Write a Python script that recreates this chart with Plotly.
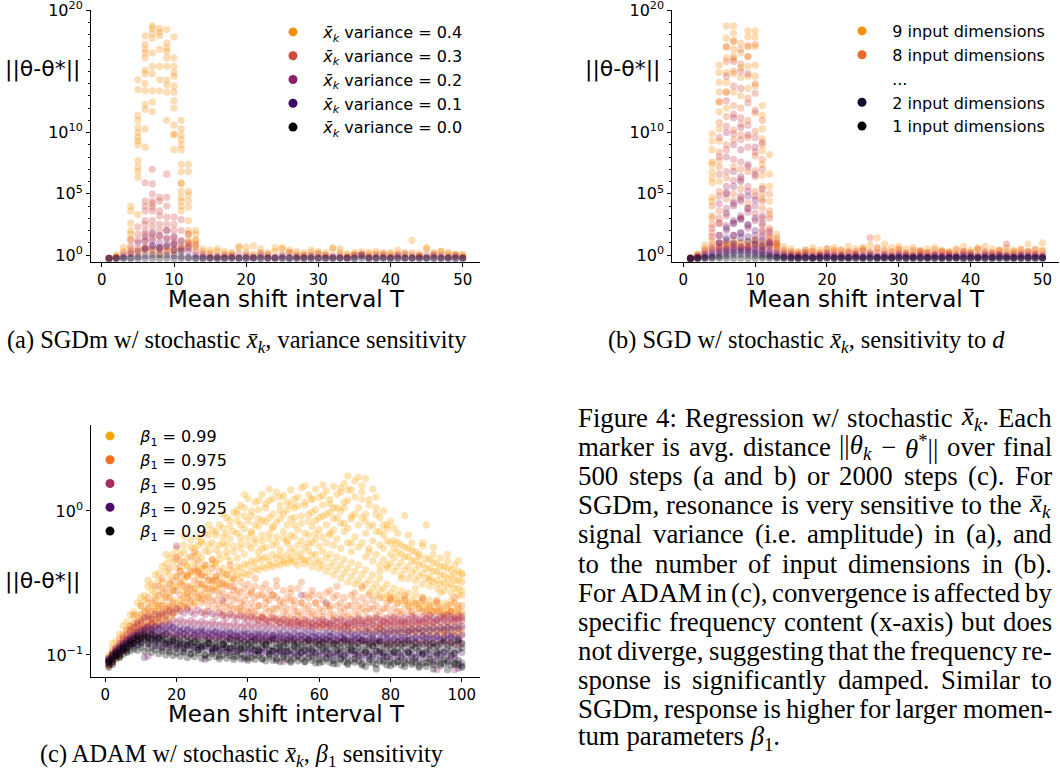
import re
import plotly.graph_objects as go

W, H = 1060, 769

# ---------------- Panel (a): SGDm, variance sensitivity ----------------
T_AB = list(range(1, 51))
A_LABELS = ["0.4", "0.3", "0.2", "0.1", "0.0"]
A_COLORS = ["#f98e09", "#d44842", "#8a226a", "#3b0964", "#000004"]

# log10(||θ-θ*||) read per T = 1..50
A04_BASE1 = [-0.25, 0.0, 0.3, 0.5, 0.4, 0.6, 0.5, 0.4, 0.6, 0.5, 0.7, 1.0, 1.2, 0.5, 0.2, 0.3, 0.1, 0.2, 0.6, 0.2,
             0.1, 0.2, 0.0, 0.3, 0.5, 0.2, 0.1, 0.0, 0.2, 0.1, 0.0, 0.5, 0.2, 0.0, 0.1, 0.0, 0.2, 0.1, 0.0, 0.2,
             0.1, 0.0, 1.2, 0.1, 0.6, 0.0, 0.3, 0.1, 0.0, 0.0]
A04_BASE2 = [-0.28, -0.1, 0.6, 0.2, 0.1, 0.3, 0.2, 0.0, 0.3, 0.2, 0.4, 0.6, 0.9, 0.3, 0.4, 0.5, 0.3, 0.1, 0.7, 0.65,
             0.75, 0.5, 0.2, 0.6, 0.6, 0.4, 0.3, 0.2, 0.4, 0.3, 0.2, 0.6, 0.5, 0.1, 0.2, 0.3, 0.1, 0.3, 0.2, 0.1,
             0.4, 0.2, 0.2, 0.0, 0.5, 0.2, 0.3, 0.2, 0.1, 0.05]
A04_PEAK = [(4, 4.0), (4, 3.6), (4, 2.6), (4, 2.0), (4, 1.7), (4, 1.3),
            (5, 14.3), (5, 13.5), (5, 11.4), (5, 11.0), (5, 10.4), (5, 10.0), (5, 9.6), (5, 9.3), (5, 9.0),
            (5, 7.7), (5, 7.2), (5, 6.8), (5, 6.3), (5, 3.3),
            (6, 17.9), (6, 17.2), (6, 16.8), (6, 16.5), (6, 16.1), (6, 15.1), (6, 14.8), (6, 14.0), (6, 13.4),
            (6, 12.3), (6, 11.9), (6, 10.3), (6, 8.8),
            (7, 18.7), (7, 18.5), (7, 18.1), (7, 17.7), (7, 16.5), (7, 15.4), (7, 14.8), (7, 13.4), (7, 12.5), (7, 11.7),
            (8, 18.5), (8, 18.2), (8, 17.9), (8, 16.8), (8, 15.4), (8, 14.3), (8, 13.4),
            (9, 18.4), (9, 17.3), (9, 16.9), (9, 16.6), (9, 16.1), (9, 15.4), (9, 14.3), (9, 13.9), (9, 13.3), (9, 11.0),
            (10, 17.8), (10, 16.1), (10, 15.4), (10, 14.9), (10, 14.6), (10, 13.8), (10, 13.3), (10, 12.6), (10, 12.0),
            (10, 10.6), (10, 9.9), (10, 9.8), (10, 8.6),
            (11, 11.0), (11, 10.3), (11, 9.8), (11, 9.4), (11, 9.0), (11, 8.6), (11, 7.4), (11, 6.8), (11, 5.9),
            (11, 5.8), (11, 5.2), (11, 4.7), (11, 4.4), (11, 4.0), (11, 3.6),
            (12, 7.4), (12, 6.8), (12, 5.2), (12, 4.9), (12, 4.4), (12, 3.9), (12, 2.8), (12, 2.0), (12, 1.7), (12, 1.2),
            (13, 2.0), (13, 1.7), (13, 1.2), (13, 0.6)]
A03_BASE = [-0.28, -0.2, 0.1, 0.3, 0.5, 0.6, 0.4, 0.5, 0.3, 0.4, 0.6, 0.8, 0.3, 0.1, 0.0, -0.1, 0.0, -0.1, 0.1, 0.0,
            -0.1, 0.1, 0.0, -0.2, 0.0, 0.2, -0.1, 0.0, -0.1, 0.1, 0.0, -0.1, 0.0, -0.2, 0.0, 0.1, -0.1, 0.0, 0.1, -0.1,
            0.0, 0.1, 0.0, -0.1, 0.0, 0.1, 0.0, -0.1, 0.0, -0.2]
A03_PEAK = [(4, 1.2), (4, 0.7), (5, 2.3), (5, 1.7), (5, 1.2),
            (6, 5.9), (6, 4.4), (6, 4.0), (6, 3.6), (6, 2.8), (6, 2.5), (6, 2.0), (6, 1.7), (6, 1.2),
            (7, 7.0), (7, 5.8), (7, 5.0), (7, 4.4), (7, 4.2), (7, 3.9), (7, 3.6), (7, 2.8), (7, 2.3), (7, 1.7), (7, 1.4),
            (8, 4.7), (8, 4.4), (8, 3.6), (8, 3.2), (8, 2.5), (8, 2.0), (8, 1.5),
            (9, 6.6), (9, 4.7), (9, 4.0), (9, 3.1), (9, 2.5), (9, 2.0), (9, 1.4),
            (10, 3.1), (10, 2.5), (10, 2.0), (10, 1.4), (10, 1.0),
            (11, 2.9), (11, 2.0), (11, 1.2), (12, 1.7), (12, 1.0), (13, 0.8)]
A02_BASE = [-0.28, -0.25, -0.1, 0.1, 0.3, 0.5, 0.8, 0.6, 0.7, 0.9, 0.5, 0.3, 0.0, -0.1, -0.2, -0.15, -0.2, -0.1, -0.2, -0.15,
            -0.2, -0.1, -0.2, -0.2, -0.1, -0.2, -0.15, -0.2, -0.1, -0.2, -0.2, -0.15, -0.2, -0.2, -0.1, 0.0, -0.2, -0.2,
            -0.15, -0.2, -0.1, -0.2, -0.2, -0.15, -0.2, -0.1, -0.2, -0.2, -0.15, -0.2]
A02_PEAK = [(5, 1.0), (6, 1.5), (6, 1.1), (7, 1.8), (7, 1.2), (8, 1.6), (8, 1.0), (9, 2.0), (9, 1.3),
            (10, 1.5), (10, 0.9), (11, 1.1), (12, 0.6)]
A01_BASE = [-0.27, -0.26, -0.25, -0.22, -0.15, -0.05, 0.0, 0.05, 0.0, -0.05, -0.1, -0.18, -0.24, -0.26, -0.25, -0.27,
            -0.26, -0.25, -0.27, -0.26, -0.25, -0.27, -0.26, -0.27, -0.25, -0.26, -0.27, -0.26, -0.25, -0.27, -0.26,
            -0.27, -0.25, -0.26, -0.27, -0.1, -0.27, -0.26, -0.25, -0.27, -0.26, -0.27, -0.25, -0.26, -0.27, -0.26,
            -0.25, -0.27, -0.26, -0.27]
A01_PEAK = [(6, 0.5), (7, 0.7), (8, 0.6), (9, 0.8), (10, 0.4), (11, 0.3)]
A00_BASE = [-0.28, -0.28, -0.27, -0.28, -0.28, -0.27, -0.28, -0.28, -0.27, -0.28, -0.28, -0.27, -0.28, -0.28, -0.27,
            -0.28, -0.28, -0.27, -0.28, -0.28, -0.27, -0.28, -0.28, -0.27, -0.28, -0.28, -0.27, -0.28, -0.28, -0.27,
            -0.28, -0.28, -0.27, -0.28, -0.28, -0.27, -0.28, -0.28, -0.27, -0.28, -0.28, -0.27, -0.28, -0.28, -0.27,
            -0.28, -0.28, -0.27, -0.28, -0.28]

# ---------------- Panel (b): SGD, sensitivity to d ----------------
B_COLORS = ["#f98e09", "#ec6626", "#d24644", "#ad305c", "#85216b", "#61136e", "#3b0964", "#140b34", "#000004"]

B9_BASE1 = [-0.28, 0.1, 0.8, 1.2, 1.0, 0.9, 1.2, 1.0, 1.1, 1.3, 1.0, 1.4, 0.9, 0.7, 0.5, 0.3, 0.4, 0.6, 0.4, 0.5,
            0.6, 0.4, 0.7, 0.5, 0.6, 0.8, 1.4, 0.9, 0.6, 0.7, 0.5, 0.6, 0.3, 0.5, 0.6, 0.4, 0.3, 0.5, 0.7, 0.4,
            0.6, 0.7, 0.5, 0.3, 0.6, 0.4, 0.5, 0.9, 0.4, 1.0]
B9_BASE2 = [-0.2, 0.0, 0.4, 0.6, 0.5, 0.7, 0.8, 0.6, 0.7, 0.9, 0.6, 0.8, 0.5, 0.3, 0.2, 0.1, 0.2, 0.3, 0.1, 0.2,
            0.4, 0.2, 0.3, 0.1, 0.4, 0.2, 0.5, 0.3, 0.2, 0.4, 0.1, 0.2, 0.4, 0.2, 0.1, 0.3, 0.2, 0.1, 0.3, 0.2,
            0.4, 0.1, 0.2, 0.4, 0.1, 0.3, 0.2, 0.3, 0.1, 0.4]
B9_PEAK = [(4, 9.9), (4, 9.3), (4, 8.6), (4, 7.6), (4, 7.4), (4, 6.8), (4, 6.3), (4, 5.9), (4, 4.7), (4, 4.4), (4, 3.0),
           (5, 15.5), (5, 14.9), (5, 14.1), (5, 13.3), (5, 12.5), (5, 11.7), (5, 10.3), (5, 9.3), (5, 7.7), (5, 6.0),
           (6, 18.7), (6, 17.7), (6, 17.0), (6, 16.1), (6, 14.9), (6, 14.1), (6, 13.3), (6, 12.0),
           (7, 18.7), (7, 18.1), (7, 17.4), (7, 16.8), (7, 16.0), (7, 14.8), (7, 13.3),
           (8, 17.3), (8, 16.5), (8, 15.3), (8, 14.5), (8, 13.0),
           (9, 18.3), (9, 17.8), (9, 17.0), (9, 16.2), (9, 15.4), (9, 14.6), (9, 13.6),
           (10, 18.3), (10, 17.8), (10, 17.0), (10, 15.5), (10, 14.6), (10, 13.8),
           (11, 12.2), (11, 11.4), (11, 10.3), (11, 9.5), (11, 8.5), (11, 7.4), (11, 6.5), (11, 5.6), (11, 4.6),
           (12, 8.2), (12, 6.6), (12, 5.6), (12, 4.4), (12, 3.3),
           (13, 1.7), (13, 1.2), (13, 0.8)]
B8_BASE = [-0.28, 0.0, 0.5, 0.9, 0.8, 1.0, 0.9, 1.0, 0.8, 1.1, 0.9, 1.0, 0.7, 0.4, 0.3, 0.2, 0.4, 0.3, 0.2, 0.5,
           0.3, 0.4, 0.2, 0.3, 0.5, 0.3, 0.6, 0.4, 0.3, 0.5, 0.2, 0.4, 0.3, 0.2, 0.4, 0.3, 0.2, 0.4, 0.3, 0.2,
           0.5, 0.3, 0.2, 0.4, 0.3, 0.2, 0.4, 0.3, 0.5, 0.3]
B8_PEAK = [(4, 4.0), (4, 3.2), (4, 2.5), (4, 1.8),
           (5, 12.5), (5, 10.8), (5, 8.4), (5, 7.2), (5, 5.2), (5, 3.6), (5, 2.6),
           (6, 17.0), (6, 15.8), (6, 13.3), (6, 11.3), (6, 9.0), (6, 6.3), (6, 4.6),
           (7, 17.5), (7, 16.2), (7, 15.0), (7, 12.2), (7, 10.2), (7, 9.4), (7, 7.2), (7, 5.0),
           (8, 16.8), (8, 15.6), (8, 12.0), (8, 10.7), (8, 9.8), (8, 7.0), (8, 5.4),
           (9, 17.1), (9, 16.2), (9, 12.8), (9, 11.0), (9, 9.6), (9, 6.8), (9, 4.2),
           (10, 17.2), (10, 14.0), (10, 11.6), (10, 10.1), (10, 8.1), (10, 6.9), (10, 5.2),
           (11, 11.0), (11, 9.0), (11, 7.8), (11, 5.0), (11, 3.8), (11, 2.4),
           (12, 5.0), (12, 3.6), (12, 2.2), (12, 1.5), (13, 1.4), (13, 0.9)]
B7_BASE = [-0.28, -0.1, 0.3, 0.6, 0.6, 0.7, 0.8, 0.7, 0.6, 0.8, 0.7, 0.6, 0.4, 0.2, 0.1, 0.0, 0.2, 0.1, 0.0, 0.2,
           0.1, 0.0, 0.2, 0.1, 0.3, 1.4, 0.2, 0.1, 0.0, 0.2, 0.1, 0.0, 0.2, 0.1, 0.0, 0.2, 0.1, 0.0, 0.2, 0.1,
           0.0, 0.2, 0.1, 0.0, 0.9, 0.1, 0.0, 0.2, 0.1, 0.0]
B7_PEAK = [(4, 2.2), (4, 1.5),
           (5, 9.6), (5, 8.0), (5, 6.6), (5, 4.8), (5, 3.0),
           (6, 14.6), (6, 12.6), (6, 10.5), (6, 8.6), (6, 6.8), (6, 5.1), (6, 3.2),
           (7, 15.8), (7, 13.8), (7, 11.5), (7, 9.9), (7, 7.8), (7, 6.1), (7, 4.4),
           (8, 15.0), (8, 13.6), (8, 11.2), (8, 9.4), (8, 7.6), (8, 6.2), (8, 4.6), (8, 3.0),
           (9, 14.8), (9, 12.4), (9, 10.6), (9, 8.8), (9, 7.2), (9, 5.6), (9, 3.8),
           (10, 13.2), (10, 11.8), (10, 9.6), (10, 8.4), (10, 6.4), (10, 4.8), (10, 3.4),
           (11, 9.2), (11, 7.0), (11, 4.4), (11, 3.0), (11, 1.8),
           (12, 3.0), (12, 2.0), (12, 1.2), (13, 1.0)]
B6_BASE = [-0.28, -0.15, 0.1, 0.4, 0.5, 0.55, 0.6, 0.65, 0.6, 0.55, 0.45, 0.35, 0.2, 0.05, 0.0, -0.05, 0.05, -0.1, 0.0,
           0.05, -0.05, 0.0, -0.08, 0.05, -0.02, 0.1, -0.06, 0.0, -0.1, 0.05, -0.03, -0.06, 0.02, -0.1, 0.05, -0.04,
           0.0, -0.08, 0.05, -0.02, -0.1, 0.02, -0.05, 0.08, -0.02, -0.08, 0.04, -0.04, 0.0, -0.1]
B6_PEAK = [(5, 4.2), (5, 2.6), (5, 1.6),
           (6, 10.0), (6, 8.0), (6, 5.6), (6, 3.8), (6, 2.4),
           (7, 11.2), (7, 9.0), (7, 6.8), (7, 4.0), (7, 2.6),
           (8, 10.4), (8, 8.6), (8, 6.4), (8, 4.8), (8, 3.0),
           (9, 9.8), (9, 7.4), (9, 5.2), (9, 3.5), (9, 2.2),
           (10, 8.8), (10, 6.6), (10, 4.0), (10, 2.8),
           (11, 5.4), (11, 3.2), (11, 2.0), (12, 1.8), (12, 1.0)]
B5_BASE = [-0.28, -0.2, 0.0, 0.2, 0.35, 0.45, 0.5, 0.55, 0.5, 0.45, 0.35, 0.25, 0.1, -0.05, -0.1, -0.12, -0.08, -0.15,
           -0.1, -0.05, -0.12, -0.1, -0.15, -0.06, -0.11, -0.03, -0.14, -0.09, -0.15, -0.06, -0.1, -0.13, -0.08, -0.15,
           -0.05, -0.12, -0.09, -0.14, -0.06, -0.1, -0.15, -0.08, -0.12, -0.05, -0.1, -0.14, -0.07, -0.12, -0.09, -0.15]
B5_PEAK = [(5, 1.6), (5, 1.0), (6, 5.0), (6, 3.4), (6, 2.0), (7, 5.6), (7, 4.2), (7, 2.8), (7, 1.6),
           (8, 6.0), (8, 4.4), (8, 3.2), (8, 1.8), (9, 4.8), (9, 3.8), (9, 2.4), (10, 4.5), (10, 3.0), (10, 1.6),
           (11, 2.6), (11, 1.5), (12, 1.0)]
B4_BASE = [-0.28, -0.22, -0.1, 0.05, 0.2, 0.3, 0.35, 0.4, 0.35, 0.3, 0.2, 0.1, -0.05, -0.12, -0.15, -0.18, -0.14, -0.2,
           -0.16, -0.12, -0.18, -0.15, -0.2, -0.13, -0.17, -0.1, -0.19, -0.15, -0.2, -0.12, -0.16, -0.18, -0.14, -0.2,
           -0.13, -0.17, -0.15, -0.19, -0.12, -0.16, -0.2, -0.14, -0.18, -0.13, -0.15, -0.19, -0.12, -0.17, -0.15, -0.2]
B4_PEAK = [(5, 1.0), (6, 2.2), (6, 1.4), (7, 2.6), (7, 1.6), (8, 2.9), (8, 1.8), (9, 2.5), (9, 1.5),
           (10, 2.0), (10, 1.2), (11, 1.2), (12, 0.8)]
B3_BASE = [-0.28, -0.25, -0.2, -0.1, 0.0, 0.15, 0.2, 0.25, 0.2, 0.15, 0.05, -0.05, -0.15, -0.2, -0.22, -0.24, -0.22,
           -0.25, -0.23, -0.2, -0.24, -0.22, -0.25, -0.2, -0.23, -0.21, -0.24, -0.22, -0.25, -0.2, -0.23, -0.22, -0.24,
           -0.21, -0.25, -0.22, -0.23, -0.2, -0.24, -0.22, -0.25, -0.21, -0.23, -0.2, -0.24, -0.22, -0.25, -0.21,
           -0.23, -0.22]
B3_PEAK = [(6, 1.2), (7, 1.0), (8, 1.4), (9, 1.1), (10, 0.9), (11, 0.7)]
B2_BASE = [-0.28, -0.27, -0.25, -0.2, -0.15, -0.05, 0.0, 0.05, 0.0, -0.05, -0.1, -0.15, -0.2, -0.25, -0.26, -0.27,
           -0.26, -0.27, -0.26, -0.25, -0.27, -0.26, -0.27, -0.25, -0.26, -0.27, -0.26, -0.25, -0.27, -0.26, -0.27,
           -0.26, -0.25, -0.27, -0.26, -0.27, -0.25, -0.26, -0.27, -0.26, -0.25, -0.27, -0.26, -0.27, -0.25, -0.26,
           -0.27, -0.26, -0.25, -0.27]
B1_BASE = [-0.28, -0.28, -0.27, -0.28, -0.27, -0.28, -0.28, -0.27, -0.28, -0.28, -0.27, -0.28, -0.28, -0.27, -0.28,
           -0.28, -0.27, -0.28, -0.28, -0.27, -0.28, -0.28, -0.27, -0.28, -0.28, -0.27, -0.28, -0.28, -0.27, -0.28,
           -0.28, -0.27, -0.28, -0.28, -0.27, -0.28, -0.28, -0.27, -0.28, -0.28, -0.27, -0.28, -0.28, -0.27, -0.28,
           -0.28, -0.27, -0.28, -0.28, -0.27]

# ---------------- Panel (c): ADAM, beta1 sensitivity (values per T = 1..100) ----------------
T_C = list(range(1, 101))
C_LABELS = ["0.99", "0.975", "0.95", "0.925", "0.9"]
C_COLORS = ["#fca50a", "#f1711f", "#a52c60", "#4d0c6b", "#000004"]

C099_RA = [0.1, 0.12, 0.11, 0.14, 0.16, 0.15, 0.19, 0.18, 0.23, 0.25, 0.24, 0.3, 0.28, 0.36, 0.33, 0.41, 0.38, 0.47, 0.44, 0.55,
           0.5, 0.58, 0.47, 0.63, 0.55, 0.66, 0.6, 0.7, 0.58, 0.74, 0.68, 0.8, 0.66, 0.9, 0.78, 0.98, 0.85, 1.1, 0.92, 1.22,
           1.0, 1.15, 0.88, 1.3, 1.05, 1.18, 0.95, 1.35, 1.1, 1.28, 1.02, 1.4, 1.2, 1.08, 1.45, 1.15, 1.3, 0.98, 1.42, 1.25,
           1.1, 1.38, 1.2, 1.48, 1.05, 1.35, 1.55, 1.18, 1.4, 1.62, 1.72, 1.35, 1.68, 1.2, 1.42, 1.05, 0.9, 1.0, 0.75, 0.85,
           0.62, 0.7, 0.58, 0.93, 0.55, 0.6, 0.52, 0.48, 0.57, 0.8, 0.46, 0.5, 0.43, 0.47, 0.41, 0.45, 0.39, 0.42, 0.38, 0.37]
C099_RB = [0.095, 0.1, 0.125, 0.12, 0.14, 0.17, 0.16, 0.2, 0.19, 0.22, 0.26, 0.23, 0.31, 0.27, 0.37, 0.32, 0.43, 0.36, 0.5, 0.4,
           0.45, 0.52, 0.42, 0.56, 0.49, 0.5, 0.62, 0.53, 0.68, 0.6, 0.72, 0.58, 0.76, 0.7, 0.86, 0.72, 0.95, 0.8, 1.05, 0.85,
           0.92, 0.8, 1.02, 0.86, 1.12, 0.9, 1.22, 0.84, 1.0, 0.95, 1.15, 0.88, 1.05, 1.25, 0.92, 1.1, 0.85, 1.2, 1.02, 0.9,
           1.28, 0.95, 1.12, 0.88, 1.3, 1.0, 1.15, 1.4, 0.92, 1.25, 1.05, 1.2, 0.85, 1.1, 0.8, 0.95, 0.72, 0.68, 0.8, 0.6,
           0.55, 0.6, 0.5, 0.56, 0.48, 0.53, 0.45, 0.5, 0.43, 0.47, 0.4, 0.44, 0.38, 0.41, 0.36, 0.4, 0.35, 0.37, 0.33, 0.36]
C099_RC = [0.09, 0.105, 0.1, 0.115, 0.13, 0.125, 0.15, 0.145, 0.17, 0.18, 0.2, 0.21, 0.19, 0.25, 0.22, 0.29, 0.26, 0.32, 0.28, 0.35,
           0.38, 0.33, 0.41, 0.37, 0.44, 0.4, 0.47, 0.42, 0.52, 0.46, 0.54, 0.5, 0.6, 0.52, 0.64, 0.57, 0.7, 0.6, 0.75, 0.65,
           0.72, 0.64, 0.78, 0.68, 0.84, 0.7, 0.76, 0.66, 0.88, 0.72, 0.8, 0.68, 0.9, 0.74, 0.82, 0.7, 0.95, 0.78, 0.86, 0.74,
           0.92, 0.8, 0.98, 0.74, 0.9, 0.82, 1.05, 0.76, 0.88, 0.95, 0.8, 0.9, 0.7, 0.78, 0.62, 0.72, 0.58, 0.55, 0.62, 0.5,
           0.47, 0.52, 0.44, 0.48, 0.41, 0.45, 0.39, 0.42, 0.37, 0.4, 0.35, 0.38, 0.33, 0.36, 0.32, 0.34, 0.31, 0.33, 0.29, 0.32]
C099_RD = [0.088, 0.095, 0.108, 0.1, 0.12, 0.135, 0.13, 0.155, 0.15, 0.165, 0.17, 0.19, 0.18, 0.21, 0.2, 0.24, 0.22, 0.27, 0.24, 0.3,
           0.31, 0.28, 0.35, 0.3, 0.38, 0.34, 0.36, 0.4, 0.37, 0.43, 0.42, 0.46, 0.4, 0.48, 0.45, 0.52, 0.47, 0.55, 0.5, 0.58,
           0.55, 0.6, 0.52, 0.62, 0.56, 0.64, 0.58, 0.6, 0.54, 0.65, 0.6, 0.55, 0.66, 0.58, 0.62, 0.56, 0.68, 0.6, 0.64, 0.57,
           0.66, 0.6, 0.7, 0.58, 0.64, 0.55, 0.72, 0.6, 0.52, 0.66, 0.56, 0.6, 0.48, 0.52, 0.45, 0.5, 0.42, 0.46, 0.4, 0.43,
           0.38, 0.41, 0.36, 0.39, 0.34, 0.37, 0.33, 0.35, 0.31, 0.34, 0.3, 0.32, 0.29, 0.31, 0.28, 0.3, 0.27, 0.29, 0.26, 0.28]
C099_RE = [0.086, 0.09, 0.098, 0.105, 0.11, 0.118, 0.125, 0.132, 0.138, 0.145, 0.15, 0.16, 0.165, 0.175, 0.18, 0.195, 0.2, 0.21,
           0.215, 0.23, 0.24, 0.25, 0.27, 0.26, 0.29, 0.28, 0.31, 0.3, 0.33, 0.32, 0.35, 0.34, 0.37, 0.36, 0.39, 0.38, 0.41,
           0.4, 0.43, 0.42, 0.45, 0.44, 0.47, 0.46, 0.48, 0.45, 0.5, 0.47, 0.49, 0.46, 0.5, 0.47, 0.52, 0.48, 0.51, 0.46, 0.53,
           0.49, 0.5, 0.45, 0.52, 0.47, 0.5, 0.44, 0.48, 0.42, 0.46, 0.4, 0.44, 0.38, 0.42, 0.36, 0.39, 0.33, 0.36, 0.31, 0.34,
           0.29, 0.31, 0.27, 0.29, 0.26, 0.28, 0.25, 0.27, 0.24, 0.26, 0.23, 0.25, 0.225, 0.24, 0.22, 0.235, 0.215, 0.23, 0.21,
           0.225, 0.205, 0.22, 0.2]
C099_RF = [0.084, 0.092, 0.095, 0.1, 0.108, 0.112, 0.12, 0.126, 0.13, 0.138, 0.142, 0.15, 0.148, 0.16, 0.158, 0.17, 0.175, 0.18,
           0.19, 0.2, 0.21, 0.22, 0.215, 0.235, 0.23, 0.25, 0.245, 0.27, 0.26, 0.29, 0.3, 0.29, 0.32, 0.31, 0.34, 0.33, 0.36,
           0.35, 0.37, 0.36, 0.38, 0.4, 0.39, 0.41, 0.4, 0.42, 0.41, 0.43, 0.42, 0.44, 0.43, 0.45, 0.44, 0.42, 0.46, 0.43,
           0.45, 0.41, 0.44, 0.4, 0.42, 0.38, 0.41, 0.36, 0.39, 0.34, 0.37, 0.32, 0.35, 0.31, 0.33, 0.29, 0.31, 0.27, 0.29,
           0.26, 0.28, 0.25, 0.26, 0.24, 0.25, 0.23, 0.24, 0.22, 0.23, 0.215, 0.225, 0.21, 0.22, 0.205, 0.21, 0.2, 0.205,
           0.195, 0.2, 0.19, 0.198, 0.185, 0.195, 0.18]
C099_SCATTER = [(12, 0.33), (14, 0.22), (17, 0.5), (19, 0.3), (22, 0.67), (23, 0.36), (26, 0.58), (27, 0.4), (29, 0.8),
                (31, 0.44), (33, 0.95), (34, 0.58), (37, 1.02), (38, 0.66), (39, 1.3), (41, 0.7), (43, 1.18), (44, 0.55),
                (46, 1.42), (47, 0.78), (49, 1.25), (51, 0.62), (52, 1.1), (53, 0.8), (56, 1.5), (57, 0.6), (58, 1.22),
                (59, 0.7), (61, 1.52), (63, 0.68), (64, 1.05), (66, 1.45), (67, 0.82), (68, 1.75), (69, 0.6), (72, 1.5),
                (73, 0.95), (74, 0.55), (76, 1.25), (77, 0.38), (78, 0.8), (79, 0.42), (81, 0.76), (83, 0.34), (85, 0.68),
                (87, 0.29), (89, 0.6), (91, 0.33), (92, 0.56), (94, 0.27), (96, 0.5), (97, 0.24), (99, 0.45), (100, 0.26)]
C0975_RA = [0.095, 0.11, 0.1, 0.13, 0.125, 0.15, 0.16, 0.19, 0.17, 0.22, 0.2, 0.25, 0.23, 0.3, 0.26, 0.34, 0.29, 0.4, 0.33, 0.46,
            0.38, 0.44, 0.35, 0.48, 0.4, 0.45, 0.36, 0.42, 0.33, 0.4, 0.35, 0.38, 0.31, 0.36, 0.3, 0.34, 0.28, 0.32, 0.29, 0.31,
            0.27, 0.3, 0.26, 0.29, 0.25, 0.28, 0.26, 0.3, 0.24, 0.28, 0.25, 0.27, 0.24, 0.29, 0.23, 0.26, 0.25, 0.28, 0.23, 0.26,
            0.24, 0.27, 0.22, 0.25, 0.26, 0.23, 0.25, 0.22, 0.26, 0.24, 0.22, 0.25, 0.23, 0.21, 0.24, 0.22, 0.25, 0.21, 0.23, 0.24,
            0.21, 0.23, 0.2, 0.24, 0.22, 0.2, 0.23, 0.21, 0.24, 0.2, 0.22, 0.2, 0.23, 0.21, 0.19, 0.22, 0.2, 0.23, 0.21, 0.22]
C0975_RB = [0.09, 0.1, 0.112, 0.118, 0.135, 0.13, 0.15, 0.165, 0.16, 0.19, 0.18, 0.21, 0.2, 0.24, 0.22, 0.27, 0.25, 0.31, 0.28, 0.35,
            0.32, 0.36, 0.3, 0.38, 0.33, 0.37, 0.31, 0.35, 0.29, 0.33, 0.28, 0.31, 0.27, 0.3, 0.26, 0.28, 0.25, 0.27, 0.24, 0.26,
            0.23, 0.25, 0.22, 0.26, 0.23, 0.24, 0.21, 0.25, 0.22, 0.23, 0.21, 0.24, 0.22, 0.2, 0.23, 0.21, 0.22, 0.2, 0.23, 0.21,
            0.2, 0.22, 0.21, 0.19, 0.22, 0.2, 0.21, 0.19, 0.22, 0.2, 0.19, 0.21, 0.2, 0.18, 0.21, 0.19, 0.2, 0.18, 0.21, 0.19,
            0.18, 0.2, 0.19, 0.17, 0.2, 0.18, 0.19, 0.17, 0.2, 0.18, 0.19, 0.17, 0.2, 0.18, 0.19, 0.17, 0.2, 0.18, 0.17, 0.19]
C0975_RC = [0.087, 0.095, 0.105, 0.11, 0.12, 0.125, 0.14, 0.145, 0.155, 0.165, 0.16, 0.18, 0.175, 0.2, 0.19, 0.22, 0.21, 0.25,
            0.23, 0.28, 0.26, 0.3, 0.25, 0.29, 0.27, 0.31, 0.26, 0.29, 0.25, 0.28, 0.24, 0.26, 0.23, 0.25, 0.22, 0.24, 0.21,
            0.23, 0.22, 0.2, 0.21, 0.2, 0.22, 0.19, 0.21, 0.2, 0.19, 0.21, 0.18, 0.2, 0.19, 0.18, 0.2, 0.185, 0.19, 0.175,
            0.195, 0.18, 0.19, 0.175, 0.185, 0.17, 0.19, 0.175, 0.18, 0.17, 0.185, 0.165, 0.18, 0.17, 0.175, 0.165, 0.18, 0.17,
            0.165, 0.178, 0.16, 0.172, 0.165, 0.17, 0.16, 0.17, 0.158, 0.168, 0.155, 0.165, 0.16, 0.152, 0.166, 0.158, 0.162,
            0.155, 0.165, 0.15, 0.16, 0.155, 0.162, 0.148, 0.158, 0.152]
C0975_RD = [0.085, 0.09, 0.098, 0.105, 0.11, 0.12, 0.128, 0.135, 0.142, 0.15, 0.155, 0.16, 0.165, 0.17, 0.18, 0.19, 0.185, 0.2,
            0.195, 0.21, 0.22, 0.23, 0.215, 0.24, 0.22, 0.25, 0.23, 0.24, 0.22, 0.235, 0.21, 0.22, 0.2, 0.215, 0.195, 0.21,
            0.19, 0.2, 0.185, 0.195, 0.18, 0.19, 0.175, 0.185, 0.17, 0.18, 0.172, 0.178, 0.168, 0.175, 0.165, 0.172, 0.16,
            0.17, 0.162, 0.168, 0.158, 0.165, 0.16, 0.155, 0.162, 0.155, 0.16, 0.152, 0.158, 0.15, 0.156, 0.148, 0.155, 0.15,
            0.153, 0.147, 0.152, 0.146, 0.15, 0.145, 0.152, 0.144, 0.15, 0.146, 0.148, 0.143, 0.15, 0.142, 0.147, 0.14, 0.146,
            0.142, 0.148, 0.14, 0.145, 0.14, 0.147, 0.138, 0.144, 0.14, 0.146, 0.137, 0.143, 0.14]
C0975_OUT = [(20, 0.48), (25, 0.52), (30, 0.46), (35, 0.42), (42, 0.34), (48, 0.33), (55, 0.32), (65, 0.3), (72, 0.3),
             (45, 0.31), (15, 0.3), (18, 0.22), (21, 0.41), (23, 0.27), (26, 0.38), (28, 0.2), (31, 0.33), (33, 0.19),
             (36, 0.3), (38, 0.21), (41, 0.28), (44, 0.18), (47, 0.26), (52, 0.29), (54, 0.17), (58, 0.26), (61, 0.165),
             (63, 0.28), (67, 0.16), (70, 0.27), (74, 0.26), (77, 0.155), (80, 0.25), (84, 0.26), (86, 0.15), (89, 0.25),
             (93, 0.24), (95, 0.145), (98, 0.25)]
C095_R1 = [0.092, 0.099, 0.106, 0.112, 0.119, 0.126, 0.133, 0.139, 0.145, 0.15, 0.155, 0.16, 0.165, 0.158, 0.168, 0.162,
           0.171, 0.165, 0.174, 0.168, 0.175, 0.17, 0.166, 0.173, 0.168, 0.164, 0.171, 0.166, 0.162, 0.169, 0.164, 0.16,
           0.167, 0.162, 0.158, 0.165, 0.16, 0.156, 0.163, 0.158, 0.162, 0.157, 0.161, 0.156, 0.163, 0.158, 0.154, 0.16,
           0.155, 0.161, 0.156, 0.16, 0.155, 0.161, 0.157, 0.153, 0.159, 0.155, 0.16, 0.156, 0.161, 0.156, 0.162, 0.158,
           0.154, 0.16, 0.157, 0.162, 0.158, 0.163, 0.159, 0.164, 0.16, 0.156, 0.162, 0.158, 0.163, 0.159, 0.165, 0.161,
           0.166, 0.162, 0.167, 0.163, 0.168, 0.164, 0.17, 0.165, 0.171, 0.167, 0.172, 0.168, 0.173, 0.169, 0.175, 0.17,
           0.176, 0.171, 0.177, 0.173]
C095_R2 = [0.087, 0.094, 0.1, 0.105, 0.11, 0.115, 0.12, 0.124, 0.128, 0.132, 0.135, 0.131, 0.138, 0.133, 0.14, 0.135,
           0.142, 0.137, 0.132, 0.139, 0.134, 0.14, 0.135, 0.131, 0.137, 0.132, 0.138, 0.133, 0.129, 0.135, 0.13, 0.136,
           0.131, 0.127, 0.133, 0.128, 0.134, 0.129, 0.125, 0.131, 0.127, 0.132, 0.128, 0.124, 0.13, 0.126, 0.131, 0.127,
           0.123, 0.129, 0.125, 0.13, 0.126, 0.122, 0.128, 0.124, 0.129, 0.125, 0.121, 0.127, 0.123, 0.128, 0.124, 0.12,
           0.126, 0.122, 0.127, 0.123, 0.119, 0.125, 0.121, 0.126, 0.122, 0.118, 0.124, 0.12, 0.125, 0.121, 0.117, 0.123,
           0.119, 0.124, 0.12, 0.126, 0.121, 0.117, 0.123, 0.119, 0.125, 0.12, 0.116, 0.122, 0.118, 0.124, 0.12, 0.126,
           0.121, 0.117, 0.123, 0.119]
C095_R3 = [0.095, 0.103, 0.112, 0.12, 0.129, 0.138, 0.147, 0.156, 0.164, 0.172, 0.18, 0.186, 0.178, 0.192, 0.185, 0.198,
           0.19, 0.204, 0.196, 0.21, 0.202, 0.195, 0.208, 0.199, 0.192, 0.205, 0.197, 0.19, 0.2, 0.193, 0.186, 0.196,
           0.188, 0.182, 0.192, 0.185, 0.179, 0.188, 0.181, 0.176, 0.185, 0.178, 0.173, 0.182, 0.176, 0.171, 0.18,
           0.174, 0.169, 0.178, 0.172, 0.168, 0.177, 0.171, 0.166, 0.175, 0.17, 0.165, 0.174, 0.169, 0.176, 0.17, 0.166,
           0.174, 0.169, 0.178, 0.172, 0.167, 0.176, 0.171, 0.18, 0.174, 0.169, 0.178, 0.173, 0.182, 0.176, 0.171, 0.18,
           0.175, 0.184, 0.178, 0.173, 0.182, 0.177, 0.186, 0.18, 0.175, 0.184, 0.179, 0.188, 0.182, 0.177, 0.186,
           0.181, 0.19, 0.184, 0.179, 0.188, 0.183]
C095_OUT = [(20, 0.57), (33, 0.24), (55, 0.26), (62, 0.23), (50, 0.09), (93, 0.079), (98, 0.079), (12, 0.098)]
C0925_R1 = [0.09, 0.097, 0.103, 0.108, 0.113, 0.119, 0.124, 0.13, 0.134, 0.138, 0.142, 0.137, 0.145, 0.14, 0.136, 0.143,
            0.139, 0.146, 0.141, 0.137, 0.144, 0.139, 0.135, 0.142, 0.138, 0.134, 0.141, 0.136, 0.132, 0.139, 0.135,
            0.131, 0.138, 0.133, 0.129, 0.136, 0.132, 0.128, 0.135, 0.13, 0.134, 0.128, 0.133, 0.13, 0.136, 0.127,
            0.132, 0.129, 0.135, 0.13, 0.127, 0.133, 0.129, 0.135, 0.128, 0.131, 0.126, 0.134, 0.13, 0.127, 0.132,
            0.128, 0.135, 0.129, 0.126, 0.133, 0.13, 0.127, 0.134, 0.129, 0.131, 0.127, 0.134, 0.128, 0.132, 0.126,
            0.13, 0.135, 0.128, 0.133, 0.129, 0.134, 0.127, 0.132, 0.137, 0.129, 0.133, 0.128, 0.135, 0.131, 0.136,
            0.13, 0.134, 0.128, 0.133, 0.138, 0.131, 0.135, 0.13, 0.137]
C0925_R2 = [0.085, 0.093, 0.098, 0.102, 0.107, 0.111, 0.115, 0.12, 0.118, 0.123, 0.096, 0.119, 0.114, 0.121, 0.116, 0.112,
            0.118, 0.113, 0.117, 0.111, 0.116, 0.11, 0.115, 0.109, 0.113, 0.108, 0.114, 0.093, 0.112, 0.107, 0.111,
            0.106, 0.112, 0.108, 0.104, 0.11, 0.105, 0.109, 0.094, 0.107, 0.103, 0.108, 0.104, 0.11, 0.105, 0.101,
            0.107, 0.103, 0.108, 0.102, 0.106, 0.101, 0.105, 0.1, 0.104, 0.108, 0.102, 0.106, 0.1, 0.105, 0.101, 0.106,
            0.099, 0.104, 0.1, 0.105, 0.098, 0.103, 0.107, 0.101, 0.104, 0.099, 0.103, 0.098, 0.102, 0.106, 0.1, 0.104,
            0.097, 0.102, 0.099, 0.104, 0.098, 0.102, 0.106, 0.1, 0.097, 0.103, 0.099, 0.105, 0.101, 0.097, 0.103,
            0.099, 0.105, 0.1, 0.096, 0.102, 0.081, 0.104]
C0925_R3 = [0.094, 0.1, 0.108, 0.114, 0.12, 0.126, 0.132, 0.137, 0.142, 0.147, 0.15, 0.155, 0.149, 0.156, 0.151, 0.158,
            0.153, 0.16, 0.155, 0.15, 0.157, 0.152, 0.148, 0.155, 0.15, 0.146, 0.153, 0.148, 0.144, 0.151, 0.146, 0.142,
            0.149, 0.145, 0.141, 0.147, 0.143, 0.139, 0.146, 0.141, 0.145, 0.14, 0.144, 0.139, 0.146, 0.141, 0.137,
            0.143, 0.14, 0.145, 0.139, 0.144, 0.14, 0.146, 0.138, 0.143, 0.139, 0.145, 0.141, 0.137, 0.143, 0.139,
            0.145, 0.14, 0.137, 0.144, 0.14, 0.146, 0.141, 0.138, 0.144, 0.139, 0.146, 0.142, 0.138, 0.145, 0.141,
            0.147, 0.142, 0.148, 0.143, 0.149, 0.144, 0.15, 0.145, 0.151, 0.146, 0.152, 0.147, 0.153, 0.148, 0.154,
            0.149, 0.155, 0.15, 0.156, 0.151, 0.157, 0.152, 0.158]
C0925_R4 = [0.092, 0.088, 0.104, 0.1, 0.116, 0.11, 0.127, 0.12, 0.136, 0.128, 0.145, 0.132, 0.15, 0.128, 0.152, 0.125,
            0.148, 0.122, 0.155, 0.12, 0.146, 0.118, 0.15, 0.116, 0.143, 0.114, 0.147, 0.112, 0.14, 0.11, 0.144, 0.108,
            0.138, 0.112, 0.142, 0.106, 0.136, 0.11, 0.14, 0.105, 0.134, 0.108, 0.139, 0.104, 0.133, 0.107, 0.137, 0.102,
            0.132, 0.106, 0.136, 0.1, 0.131, 0.105, 0.135, 0.099, 0.13, 0.104, 0.134, 0.098, 0.129, 0.103, 0.133, 0.097,
            0.128, 0.102, 0.132, 0.096, 0.127, 0.101, 0.131, 0.095, 0.126, 0.1, 0.13, 0.094, 0.125, 0.099, 0.133, 0.093,
            0.128, 0.098, 0.132, 0.092, 0.127, 0.097, 0.131, 0.091, 0.136, 0.096, 0.13, 0.09, 0.135, 0.095, 0.129, 0.089,
            0.134, 0.094, 0.128, 0.088]
C090_R1 = [0.088, 0.095, 0.098, 0.104, 0.108, 0.112, 0.118, 0.121, 0.125, 0.122, 0.128, 0.124, 0.13, 0.126, 0.122, 0.127,
           0.12, 0.118, 0.123, 0.115, 0.119, 0.112, 0.117, 0.121, 0.113, 0.118, 0.11, 0.116, 0.12, 0.112, 0.115, 0.109,
           0.118, 0.113, 0.111, 0.117, 0.108, 0.114, 0.112, 0.119, 0.11, 0.116, 0.107, 0.113, 0.118, 0.109, 0.114,
           0.111, 0.106, 0.115, 0.112, 0.108, 0.116, 0.11, 0.113, 0.107, 0.115, 0.109, 0.112, 0.117, 0.108, 0.113,
           0.11, 0.116, 0.105, 0.111, 0.114, 0.108, 0.112, 0.106, 0.113, 0.109, 0.104, 0.111, 0.115, 0.107, 0.11,
           0.103, 0.112, 0.108, 0.105, 0.111, 0.107, 0.113, 0.104, 0.109, 0.112, 0.106, 0.103, 0.11, 0.107, 0.113,
           0.105, 0.109, 0.104, 0.111, 0.107, 0.103, 0.109, 0.112]
C090_R2 = [0.082, 0.09, 0.094, 0.097, 0.101, 0.104, 0.107, 0.11, 0.108, 0.113, 0.106, 0.111, 0.104, 0.109, 0.102, 0.107,
           0.1, 0.105, 0.099, 0.103, 0.098, 0.104, 0.096, 0.101, 0.097, 0.103, 0.095, 0.1, 0.096, 0.102, 0.097, 0.094,
           0.1, 0.095, 0.099, 0.093, 0.098, 0.094, 0.097, 0.092, 0.096, 0.093, 0.099, 0.094, 0.091, 0.097, 0.092, 0.095,
           0.09, 0.096, 0.093, 0.089, 0.095, 0.091, 0.094, 0.09, 0.096, 0.092, 0.088, 0.093, 0.09, 0.094, 0.089, 0.092,
           0.087, 0.093, 0.09, 0.088, 0.092, 0.089, 0.091, 0.087, 0.083, 0.09, 0.088, 0.086, 0.091, 0.089, 0.085, 0.09,
           0.087, 0.09, 0.085, 0.088, 0.092, 0.086, 0.089, 0.084, 0.088, 0.083, 0.089, 0.086, 0.09, 0.084, 0.087, 0.091,
           0.085, 0.088, 0.086, 0.084]
C090_R3 = [0.092, 0.1, 0.105, 0.11, 0.115, 0.12, 0.126, 0.13, 0.135, 0.132, 0.138, 0.134, 0.14, 0.136, 0.131, 0.137,
           0.129, 0.133, 0.127, 0.131, 0.126, 0.13, 0.124, 0.129, 0.123, 0.128, 0.121, 0.127, 0.122, 0.126, 0.12, 0.125,
           0.119, 0.124, 0.13, 0.121, 0.126, 0.12, 0.124, 0.118, 0.123, 0.127, 0.12, 0.125, 0.119, 0.124, 0.128, 0.121,
           0.118, 0.123, 0.12, 0.126, 0.119, 0.123, 0.117, 0.122, 0.127, 0.12, 0.124, 0.118, 0.123, 0.119, 0.125, 0.12,
           0.117, 0.122, 0.126, 0.119, 0.123, 0.116, 0.121, 0.125, 0.118, 0.122, 0.116, 0.12, 0.124, 0.117, 0.121,
           0.119, 0.116, 0.122, 0.118, 0.12, 0.125, 0.117, 0.121, 0.115, 0.119, 0.123, 0.118, 0.121, 0.116, 0.12, 0.124,
           0.117, 0.122, 0.119, 0.125, 0.121]
C090_R4 = [0.09, 0.086, 0.1, 0.096, 0.112, 0.106, 0.12, 0.115, 0.128, 0.118, 0.132, 0.12, 0.127, 0.115, 0.13, 0.112, 0.122,
           0.108, 0.126, 0.11, 0.121, 0.106, 0.118, 0.103, 0.124, 0.108, 0.115, 0.1, 0.12, 0.105, 0.113, 0.098, 0.119, 0.104,
           0.111, 0.097, 0.116, 0.102, 0.109, 0.095, 0.114, 0.1, 0.108, 0.094, 0.117, 0.101, 0.106, 0.092, 0.112, 0.099,
           0.105, 0.091, 0.114, 0.098, 0.104, 0.09, 0.11, 0.097, 0.103, 0.088, 0.112, 0.096, 0.102, 0.087, 0.109, 0.095,
           0.1, 0.086, 0.108, 0.094, 0.099, 0.085, 0.107, 0.093, 0.098, 0.08, 0.105, 0.092, 0.097, 0.084, 0.104, 0.09,
           0.096, 0.083, 0.103, 0.089, 0.095, 0.082, 0.101, 0.088, 0.094, 0.08, 0.1, 0.087, 0.093, 0.079, 0.099, 0.086,
           0.092, 0.082]

# ---------------- Text ----------------
YLABEL = "||θ-θ*||"
XLABEL = "Mean shift interval T"
XBAR = "<i>x̄</i><sub><i>k</i></sub>"
CAPTION_A = "(a) SGDm w/ stochastic " + XBAR + ", variance sensitivity"
CAPTION_B = "(b) SGD w/ stochastic " + XBAR + ", sensitivity to <i>d</i>"
CAPTION_C = "(c) ADAM w/ stochastic " + XBAR + ", <i>β</i><sub>1</sub> sensitivity"
PARAGRAPH = [
    "Figure 4: Regression w/ stochastic " + XBAR + ". Each",
    "marker is avg. distance ||<i>θ</i><sub><i>k</i></sub> − <i>θ</i><sup>*</sup>|| over final",
    "500 steps (a and b) or 2000 steps (c).  For",
    "SGDm, resonance is very sensitive to the " + XBAR,
    "signal variance (i.e.  amplitude) in (a), and",
    "to the number of input dimensions in (b).",
    "For ADAM in (c), convergence is affected by",
    "specific frequency content (x-axis) but does",
    "not diverge, suggesting that the frequency re-",
    "sponse is significantly damped.  Similar to",
    "SGDm, response is higher for larger momen-",
    "tum parameters <i>β</i><sub>1</sub>.",
]

SANS = "DejaVu Sans"
SERIF = "Liberation Serif"

# Times / Liberation Serif advance widths (1/1000 em) used to justify the paragraph
_UP = "ABCDEFGHIJKLMNOPQRSTUVWXYZ"
_UPW = [722, 667, 667, 722, 611, 556, 722, 722, 333, 389, 722, 611, 889, 722, 722, 556, 722, 667, 556, 611, 722,
        722, 944, 722, 722, 611]
_LO = "abcdefghijklmnopqrstuvwxyz"
_LOW = [444, 500, 444, 500, 444, 333, 500, 500, 278, 278, 500, 278, 778, 500, 500, 500, 500, 333, 389, 278, 500,
        500, 722, 500, 500, 444]
SERIF_W = dict(zip(_UP, _UPW))
SERIF_W.update(zip(_LO, _LOW))
SERIF_W.update({c: 500 for c in "0123456789"})
SERIF_W.update({" ": 250, "(": 333, ")": 333, "*": 500, ",": 250, "-": 333, ".": 250, "/": 278, ":": 278,
                "|": 200, "−": 564, "θ": 500, "β": 500, "\u0304": 0})


def em_width(markup):
    total, scale = 0.0, 1.0
    for part in re.split(r"(<[^>]+>)", markup):
        if part.startswith("<"):
            if part in ("<sub>", "<sup>"):
                scale = 0.7
            elif part in ("</sub>", "</sup>"):
                scale = 1.0
            continue
        for ch in part:
            total += SERIF_W.get(ch, 500) * scale
    return total / 1000.0


fig = go.Figure()


def cloud(xs, ys, color, xa, ya):
    fig.add_trace(go.Scatter(
        x=xs, y=ys, mode="markers", xaxis=xa, yaxis=ya, showlegend=False, cliponaxis=False,
        hoverinfo="skip", marker=dict(size=7.2, color=color, opacity=0.3, line=dict(width=0))))


def legend_item(name, color, legend, xa, ya):
    fig.add_trace(go.Scatter(
        x=[None], y=[None], mode="markers", xaxis=xa, yaxis=ya, name=name, legend=legend,
        legendgroup=legend + name, showlegend=True, marker=dict(size=9, color=color, line=dict(width=0))))


def pow10(v):
    return [10.0 ** float(e) for e in v]


A_SERIES = [
    ([A04_BASE1, A04_BASE2], A04_PEAK),
    ([A03_BASE], A03_PEAK),
    ([A02_BASE], A02_PEAK),
    ([A01_BASE], A01_PEAK),
    ([A00_BASE], []),
]
for (bases, peak), col in zip(A_SERIES, A_COLORS):
    xs, ys = [], []
    for b in bases:
        xs += T_AB
        ys += pow10(b)
    xs += [p[0] for p in peak]
    ys += pow10([p[1] for p in peak])
    cloud(xs, ys, col, "x", "y")

B_SERIES = [
    ([B9_BASE1, B9_BASE2], B9_PEAK), ([B8_BASE], B8_PEAK), ([B7_BASE], B7_PEAK), ([B6_BASE], B6_PEAK),
    ([B5_BASE], B5_PEAK), ([B4_BASE], B4_PEAK), ([B3_BASE], B3_PEAK), ([B2_BASE], []), ([B1_BASE], []),
]
for (bases, peak), col in zip(B_SERIES, B_COLORS):
    xs, ys = [], []
    for b in bases:
        xs += T_AB
        ys += pow10(b)
    xs += [p[0] for p in peak]
    ys += pow10([p[1] for p in peak])
    cloud(xs, ys, col, "x2", "y2")

C_SERIES = [
    ([C099_RA, C099_RB, C099_RC, C099_RD, C099_RE, C099_RF], C099_SCATTER),
    ([C0975_RA, C0975_RB, C0975_RC, C0975_RD], C0975_OUT),
    ([C095_R1, C095_R2, C095_R3], C095_OUT),
    ([C0925_R1, C0925_R2, C0925_R3, C0925_R4], []),
    ([C090_R1, C090_R2, C090_R3, C090_R4], []),
]
for (rows, extra), col in zip(C_SERIES, C_COLORS):
    xs, ys = [], []
    for r in rows:
        xs += T_C
        ys += r
    xs += [p[0] for p in extra]
    ys += [p[1] for p in extra]
    cloud(xs, ys, col, "x3", "y3")

NB = "\u00a0\u00a0"
for lab, col in zip(A_LABELS, A_COLORS):
    legend_item(NB + XBAR + " variance = " + lab, col, "legend", "x", "y")
B_LEG = [("9 input dimensions", B_COLORS[0]), ("8 input dimensions", B_COLORS[1]), ("...", "rgba(0,0,0,0)"),
         ("2 input dimensions", B_COLORS[7]), ("1 input dimensions", B_COLORS[8])]
for lab, col in B_LEG:
    legend_item(NB + lab, col, "legend2", "x2", "y2")
for lab, col in zip(C_LABELS, C_COLORS):
    legend_item(NB + "<i>β</i><sub>1</sub> = " + lab, col, "legend3", "x3", "y3")


def xd(p0, p1):
    return [p0 / W, p1 / W]


def yd(top, bottom):
    return [1 - bottom / H, 1 - top / H]


axis_common = dict(showline=True, linecolor="black", linewidth=1, ticks="outside", ticklen=4, tickwidth=1,
                   tickcolor="black", showgrid=False, zeroline=False, mirror=False, automargin=False,
                   tickfont=dict(family=SANS, size=15, color="black"))
yfont = dict(family=SANS, size=16, color="black")

LOG_TICKS_AB = [1.0, 1e5, 1e10, 1e15, 1e20]
LOG_TEXT_AB = ["10<sup>0</sup>", "10<sup>5</sup>", "10<sup>10</sup>", "", "10<sup>20</sup>"]
minor_ab = dict(tickvals=[10.0 ** k for k in range(0, 21)], ticks="outside", ticklen=2, tickcolor="black",
                showgrid=False)

fig.update_layout(
    width=W, height=H, margin=dict(l=0, r=0, t=0, b=0, autoexpand=False), paper_bgcolor="white",
    plot_bgcolor="white", font=dict(family=SANS, color="black"),
    xaxis=dict(axis_common, domain=xd(91, 480), range=[-1.5, 52.4], tickvals=[0, 10, 20, 30, 40, 50], anchor="y"),
    yaxis=dict(axis_common, domain=yd(10, 261.7), type="log", range=[-0.547, 20.001], tickvals=LOG_TICKS_AB,
               ticktext=LOG_TEXT_AB, minor=minor_ab, anchor="x", tickfont=yfont, ticklabeloverflow="allow"),
    xaxis2=dict(axis_common, domain=xd(672.3, 1059), range=[-1.53, 52.3], tickvals=[0, 10, 20, 30, 40, 50],
                anchor="y2"),
    yaxis2=dict(axis_common, domain=yd(10, 261.7), type="log", range=[-0.547, 20.001], tickvals=LOG_TICKS_AB,
                ticktext=LOG_TEXT_AB, minor=minor_ab, anchor="x2", tickfont=yfont, ticklabeloverflow="allow"),
    xaxis3=dict(axis_common, domain=xd(91.3, 480), range=[-3.93, 105.1], tickvals=[0, 20, 40, 60, 80, 100],
                anchor="y3"),
    yaxis3=dict(axis_common, domain=yd(425, 676.7), type="log", range=[-1.151, 0.597], tickvals=[0.1, 1.0],
                ticktext=["10<sup>−1</sup>", "10<sup>0</sup>"], anchor="x3", tickfont=yfont),
    legend=dict(x=273 / W, y=1 - 15 / H, xanchor="left", yanchor="top", bgcolor="rgba(0,0,0,0)",
                font=dict(family=SANS, size=16), tracegroupgap=0, itemclick=False),
    legend2=dict(x=842 / W, y=1 - 14 / H, xanchor="left", yanchor="top", bgcolor="rgba(0,0,0,0)",
                 font=dict(family=SANS, size=16), tracegroupgap=0, itemclick=False),
    legend3=dict(x=90 / W, y=1 - 419 / H, xanchor="left", yanchor="top", bgcolor="rgba(0,0,0,0)",
                 font=dict(family=SANS, size=16), tracegroupgap=0, itemclick=False),
)

ann = []


def text(t, x, y, size, family, xanchor="center", yanchor="middle"):
    ann.append(dict(text=t, x=x / W, y=1 - y / H, xref="paper", yref="paper", showarrow=False,
                    xanchor=xanchor, yanchor=yanchor, font=dict(family=family, size=size, color="black")))


text(YLABEL, 83, 69, 22, SANS, xanchor="right")
text(YLABEL, 663, 69, 22, SANS, xanchor="right")
text(YLABEL, 83, 581, 22, SANS, xanchor="right")
text(XLABEL, 286, 299, 23, SANS)
text(XLABEL, 866, 299, 23, SANS)
text(XLABEL, 286, 714, 23, SANS)
text(CAPTION_A, 237, 341, 24.4, SERIF)
text(CAPTION_B, 806, 341, 24.4, SERIF)
text(CAPTION_C, 242, 755, 24.4, SERIF)

# justified caption paragraph (last line left-aligned)
PARA_FS = 26.8
PARA_LEFT = 576
PARA_WIDTH = 474
for i, line in enumerate(PARAGRAPH):
    y = 418 + 29.1 * i
    if i == len(PARAGRAPH) - 1:
        text(line, PARA_LEFT, y, PARA_FS, SERIF, xanchor="left")
        continue
    words = line.split()
    widths = [em_width(w) * PARA_FS for w in words]
    gap = (PARA_WIDTH - sum(widths)) / (len(words) - 1)
    x = PARA_LEFT
    for w, wd in zip(words, widths):
        text(w, x, y, PARA_FS, SERIF, xanchor="left")
        x += wd + gap

fig.update_layout(annotations=ann)
fig.write_html("out.html", config={"displayModeBar": False},
               post_script="document.body.style.margin='0px';document.body.style.overflow='hidden';")
